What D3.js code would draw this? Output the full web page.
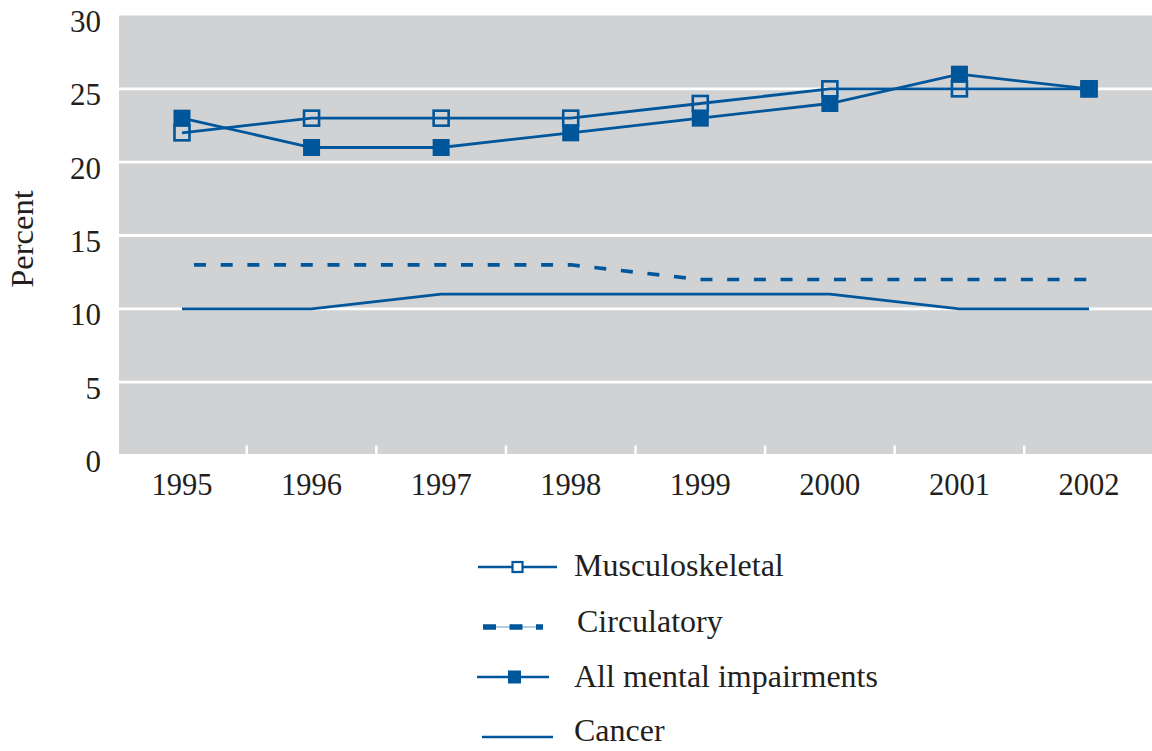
<!DOCTYPE html>
<html><head><meta charset="utf-8">
<script src="https://cdn.jsdelivr.net/npm/d3@7/dist/d3.min.js"></script>
<style>html,body{margin:0;padding:0;background:#fff;}svg{display:block;}
svg text{font-family:'Liberation Serif',Tinos,'Times New Roman',Times,'DejaVu Serif',serif !important;}</style>
</head><body>
<svg id="chart" width="1152" height="751"></svg>
<script>
const years = ["1995","1996","1997","1998","1999","2000","2001","2002"];
const musculoskeletal = [22,23,23,23,24,25,25,25];
const circulatory = [13,13,13,13,12,12,12,12];
const mental = [23,21,21,22,23,24,26,25];
const cancer = [10,10,11,11,11,11,10,10];
const yTicks = [0,5,10,15,20,25,30];
const legendLabels = ["Musculoskeletal","Circulatory","All mental impairments","Cancer"];

const blue = "#00569a";
const grey = "#d1d2d4";
const svg = d3.select("#chart");

const x = d3.scaleBand().domain(years).range([117.2, 1153.8]);
const y = d3.scaleLinear().domain([0,30]).range([455.5, 15.5]);
const cx = d => x(d) + x.bandwidth()/2;

svg.append("rect").attr("x",119).attr("y",y(30)).attr("width",1152-119).attr("height",y(0)-y(30)).attr("fill",grey);

svg.append("g").selectAll("line").data(yTicks.filter(t=>t<30)).join("line")
  .attr("x1",119).attr("x2",1152).attr("y1",d=>y(d)).attr("y2",d=>y(d))
  .attr("stroke","#fff").attr("stroke-width",2.8);

svg.append("g").selectAll("line").data(years.slice(1)).join("line")
  .attr("x1",d=>x(d)).attr("x2",d=>x(d)).attr("y1",y(0)-10).attr("y2",y(0))
  .attr("stroke","#fff").attr("stroke-width",2.5);

const yAxis = d3.axisLeft(y).tickValues(yTicks).tickSize(0).tickPadding(0);
const yg = svg.append("g").attr("transform","translate(101,0)").call(yAxis);
yg.select(".domain").remove();
yg.selectAll("text").attr("font-size",31).attr("fill","#231f20").attr("dy","0.52em");

const xAxis = d3.axisBottom(x).tickSize(0).tickPadding(0);
const xg = svg.append("g").attr("transform","translate(0,473)").call(xAxis);
xg.select(".domain").remove();
xg.selectAll("text").attr("font-size",30.5).attr("fill","#231f20").attr("dy","0.71em");

svg.append("text").attr("transform","translate(33,239) rotate(-90)")
  .attr("text-anchor","middle").attr("font-size",32.5).attr("fill","#231f20").text("Percent");

const line = d3.line().x((d,i)=>cx(years[i])).y(d=>y(d));

svg.append("path").datum(cancer).attr("d",line).attr("fill","none").attr("stroke",blue).attr("stroke-width",2.8);
svg.append("path").datum(circulatory).attr("d",line).attr("fill","none").attr("stroke",blue)
  .attr("stroke-width",3.6).attr("stroke-dasharray","12,14.7").attr("stroke-dashoffset",14.7);
svg.append("path").datum(mental).attr("d",line).attr("fill","none").attr("stroke",blue).attr("stroke-width",2.8);
svg.append("g").selectAll("rect").data(mental).join("rect")
  .attr("x",(d,i)=>cx(years[i])-8.5).attr("y",d=>y(d)-8.5).attr("width",17).attr("height",17).attr("fill",blue);
svg.append("path").datum(musculoskeletal).attr("d",line).attr("fill","none").attr("stroke",blue).attr("stroke-width",2.8);
svg.append("g").selectAll("rect").data(musculoskeletal).join("rect")
  .attr("x",(d,i)=>cx(years[i])-7.5).attr("y",d=>y(d)-7.5).attr("width",15).attr("height",15)
  .attr("fill","none").attr("stroke",blue).attr("stroke-width",2.6);

const lg = svg.append("g");
const rowsY = [567,627,677,737];
const textY = [565,621,676,730];
const textX = [574,577,574,574];
lg.append("line").attr("x1",478).attr("x2",557).attr("y1",rowsY[0]).attr("y2",rowsY[0]).attr("stroke",blue).attr("stroke-width",2.6);
lg.append("rect").attr("x",512.5).attr("y",rowsY[0]-5).attr("width",10).attr("height",10).attr("fill","#fff").attr("stroke",blue).attr("stroke-width",2.2);
lg.append("line").attr("x1",483).attr("x2",543).attr("y1",rowsY[1]).attr("y2",rowsY[1]).attr("stroke",blue).attr("stroke-width",1).attr("stroke-opacity",0.6);
lg.append("line").attr("x1",483).attr("x2",543).attr("y1",rowsY[1]).attr("y2",rowsY[1]).attr("stroke",blue).attr("stroke-width",5.5).attr("stroke-dasharray","13,13.5");
lg.append("line").attr("x1",477).attr("x2",549).attr("y1",rowsY[2]).attr("y2",rowsY[2]).attr("stroke",blue).attr("stroke-width",2.6);
lg.append("rect").attr("x",508).attr("y",rowsY[2]-6.5).attr("width",13).attr("height",13).attr("fill",blue);
lg.append("line").attr("x1",482).attr("x2",553).attr("y1",rowsY[3]).attr("y2",rowsY[3]).attr("stroke",blue).attr("stroke-width",2.6);

lg.selectAll("text").data(legendLabels).join("text")
  .attr("x",(d,i)=>textX[i]).attr("y",(d,i)=>textY[i]).attr("dy","0.35em")
  .attr("font-size",32).attr("fill","#231f20").text(d=>d);
</script>
</body></html>
